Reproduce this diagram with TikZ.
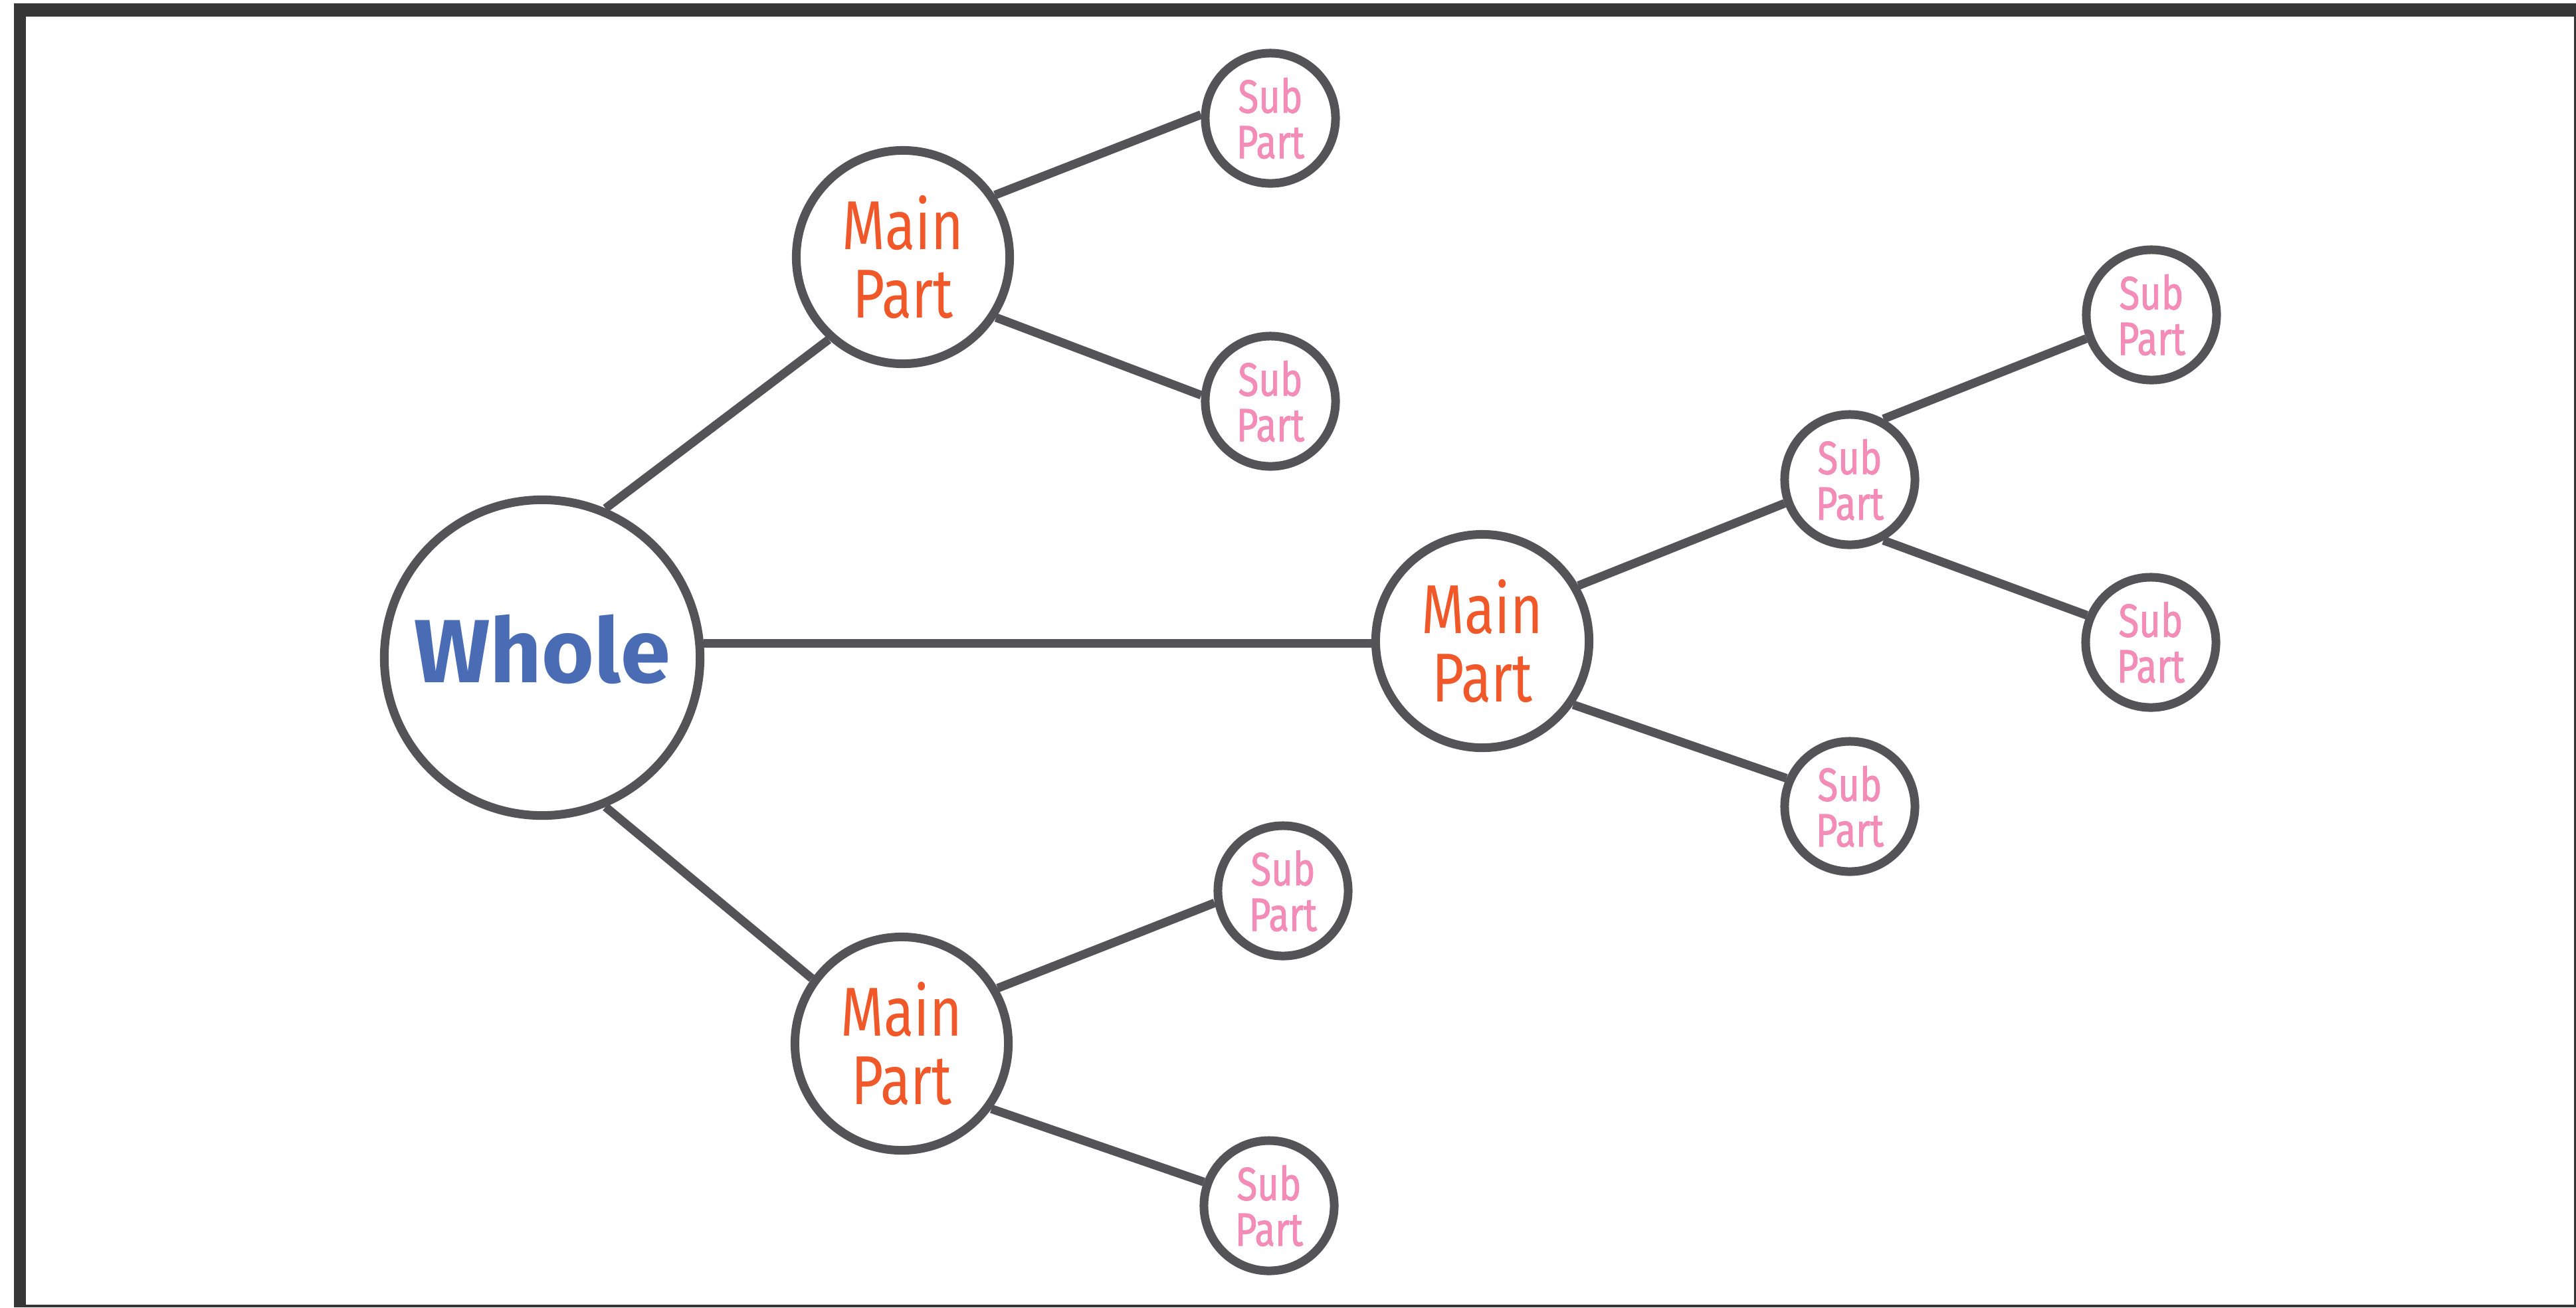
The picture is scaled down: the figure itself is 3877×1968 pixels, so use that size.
\documentclass[tikz,border=0pt]{standalone}
\usepackage{fontspec}
\newfontfamily\wholefont{Fira Sans}
\newfontfamily\handfont[FakeStretch=0.8]{Fira Sans}
\newfontfamily\subfont[FakeStretch=0.8,FakeBold=1.2]{Fira Sans}
\definecolor{framegray}{RGB}{54,54,54}
\definecolor{linegray}{RGB}{84,84,86}
\definecolor{wholeblue}{RGB}{74,108,180}
\definecolor{mainorange}{RGB}{240,88,42}
\definecolor{subpink}{RGB}{244,140,184}
\begin{document}
\begin{tikzpicture}[x=0.01cm,y=-0.01cm,
  circ/.style={circle, draw=linegray, line width=0.13cm, fill=white, inner sep=0pt, align=center},
  wholec/.style={circ, minimum size=4.75cm, font=\wholefont\bfseries\fontsize{38.4}{40}\selectfont, text=wholeblue, text height=0.74cm, text depth=0cm},
  mainc/.style={circ, minimum size=3.21cm, font=\handfont\fontsize{29.6}{29.4}\selectfont, text=mainorange},
  subc/.style={circ, minimum size=1.96cm, font=\subfont\fontsize{20}{19.5}\selectfont, text=subpink},
  conn/.style={draw=linegray, line width=0.13cm}]
\useasboundingbox (0,0) rectangle (3877,1968);
\fill[white] (0,0) rectangle (3877,1968);
\fill[framegray] (21,5) rectangle (3877,1968);
\fill[white] (39,25) rectangle (3874,1964);

\node[wholec] (whole) at (816,990) {Whole};
\node[mainc] (m1) at (1359,387) {Main\\Part};
\node[mainc] (m2) at (2231,965) {Main\\Part};
\node[mainc] (m3) at (1357,1571) {Main\\Part};
\node[subc] (s1) at (1912,178) {Sub\\Part};
\node[subc] (s2) at (1912,604) {Sub\\Part};
\node[subc] (s3) at (2784,722) {Sub\\Part};
\node[subc] (s4) at (3238,474) {Sub\\Part};
\node[subc] (s5) at (3237,967) {Sub\\Part};
\node[subc] (s6) at (2784,1214) {Sub\\Part};
\node[subc] (s7) at (1931,1341) {Sub\\Part};
\node[subc] (s8) at (1910,1815) {Sub\\Part};

\draw[conn] (whole.67) -- (m1.228);
\draw[conn] (whole.5) -- (whole.5 -| m2.west);
\draw[conn] (whole.293) -- (m3.144);
\draw[conn] (m1.34) -- (s1.177);
\draw[conn] (m1.327) -- (s2.175);
\draw[conn] (m2.30) -- (s3.200);
\draw[conn] (m2.325) -- (s6.156);
\draw[conn] (s3.61) -- (s4.200);
\draw[conn] (s3.299) -- (s5.157);
\draw[conn] (m3.30) -- (s7.190);
\draw[conn] (m3.324) -- (s8.160);
\end{tikzpicture}
\end{document}
